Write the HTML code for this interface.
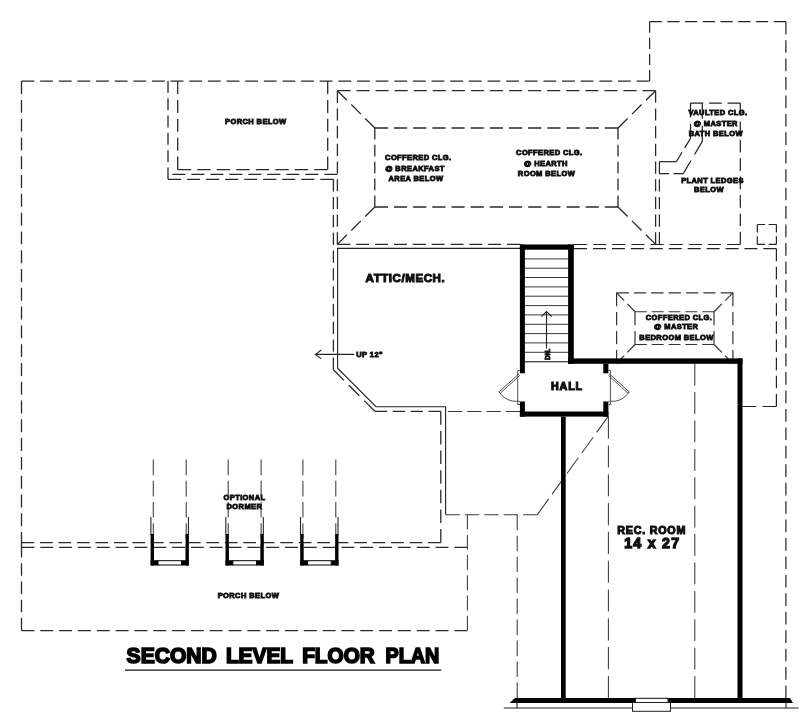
<!DOCTYPE html>
<html lang="en"><head><meta charset="utf-8"><title>Second Level Floor Plan</title>
<style>
html,body{margin:0;padding:0;background:#fff;}
body{width:800px;height:715px;overflow:hidden;}
svg{display:block;will-change:transform;}
text{font-family:"Liberation Sans",sans-serif;font-weight:bold;fill:#111;}
.d{fill:none;stroke:#2a2a2a;stroke-width:1.3;}
.dn{fill:none;stroke:#2a2a2a;stroke-width:1.12;}
.dt,.d5{fill:none;stroke:#242424;stroke-width:1.22;}
.d2{fill:none;stroke:#333;stroke-width:1.2;}
.d3,.d4{fill:none;stroke:#3a3a3a;stroke-width:1.05;}
.s{fill:none;stroke:#222;stroke-width:1.1;}
.tr{fill:none;stroke:#303030;stroke-width:0.95;}
.g{fill:none;stroke:#4a4a4a;stroke-width:0.95;}
.u{fill:none;stroke:#111;stroke-width:1.2;}
.w{fill:#000;}
.m{text-anchor:middle;}
.t7{font-size:7.5px;stroke:#111;stroke-width:0.85;letter-spacing:0.4px;}
.t12{font-size:11.55px;stroke:#111;stroke-width:1.05;letter-spacing:0.55px;}
.t12h{font-size:10.7px;stroke:#111;stroke-width:1.1;letter-spacing:0.8px;}
.t11{font-size:10.7px;stroke:#111;stroke-width:1.1;letter-spacing:0.8px;}
.t16{font-size:14.2px;stroke:#111;stroke-width:1.3;letter-spacing:1.28px;}
.title{font-size:21.5px;stroke:#000;stroke-width:1.7;fill:#000;}
</style></head>
<body>
<svg width="800" height="715" viewBox="0 0 800 715">
<rect x="0" y="0" width="800" height="715" fill="#ffffff"/>
<line class="d" x1="21.5" y1="630.6" x2="21.5" y2="545" stroke-dasharray="12.57 5.69"/>
<line class="d" x1="21.5" y1="545" x2="21.5" y2="81.1" stroke-dasharray="12.93 5.86"/>
<line class="d" x1="21.5" y1="81.1" x2="649.6" y2="81.1" stroke-dasharray="12.83 5.81"/>
<line class="d" x1="21.5" y1="630.6" x2="467.3" y2="630.6" stroke-dasharray="12.95 5.87"/>
<line class="dt" x1="649.6" y1="81.1" x2="649.6" y2="21.7" stroke-dasharray="11.08 5.02"/>
<line class="dt" x1="649.6" y1="21.7" x2="785.9" y2="21.7" stroke-dasharray="12.20 5.53"/>
<line class="dt" x1="785.9" y1="21.7" x2="785.9" y2="698" stroke-dasharray="12.69 5.75"/>
<line class="d" x1="168" y1="81.1" x2="168" y2="179.3" stroke-dasharray="11.88 5.38"/>
<line class="d" x1="168" y1="179.3" x2="333.4" y2="179.3" stroke-dasharray="13.10 5.94"/>
<line class="d" x1="333.4" y1="179.3" x2="333.4" y2="369.7" stroke-dasharray="12.26 5.55"/>
<line class="d" x1="333.4" y1="369.7" x2="374.8" y2="411.3" stroke-dasharray="15.02 6.81"/>
<line class="d" x1="374.8" y1="411.3" x2="440.8" y2="411.3" stroke-dasharray="12.31 5.58"/>
<line class="d" x1="440.8" y1="411.3" x2="440.8" y2="542.6" stroke-dasharray="13.51 6.12"/>
<line class="dn" x1="21.5" y1="542.6" x2="440.8" y2="542.6" stroke-dasharray="12.72 5.76"/>
<line class="d" x1="177.7" y1="81.1" x2="177.7" y2="169.6" stroke-dasharray="12.99 5.89"/>
<line class="d" x1="177.7" y1="169.6" x2="327.7" y2="169.6" stroke-dasharray="13.43 6.08"/>
<line class="d" x1="327.7" y1="169.6" x2="327.7" y2="81.1" stroke-dasharray="12.99 5.89"/>
<line class="d" x1="172.4" y1="174.3" x2="337.4" y2="174.3" stroke-dasharray="13.07 5.92"/>
<line class="dn" x1="21.5" y1="547.4" x2="467.3" y2="547.4" stroke-dasharray="12.95 5.87"/>
<line class="d" x1="337.4" y1="244.4" x2="337.4" y2="90.7" stroke-dasharray="12.17 5.52"/>
<line class="d" x1="337.4" y1="90.7" x2="655.6" y2="90.7" stroke-dasharray="13.12 5.95"/>
<line class="d" x1="655.6" y1="90.7" x2="655.6" y2="244.4" stroke-dasharray="12.17 5.52"/>
<line class="d" x1="337.4" y1="244.4" x2="520" y2="244.4" stroke-dasharray="12.97 5.88"/>
<line class="dt" x1="574" y1="244.5" x2="740.3" y2="244.5" stroke-dasharray="13.17 5.97"/>
<line class="d" x1="374.8" y1="128" x2="618" y2="128" stroke-dasharray="13.19 5.98"/>
<line class="d" x1="618" y1="128" x2="618" y2="207" stroke-dasharray="11.60 5.25"/>
<line class="d" x1="618" y1="207" x2="374.8" y2="207" stroke-dasharray="13.19 5.98"/>
<line class="d" x1="374.8" y1="207" x2="374.8" y2="128" stroke-dasharray="11.60 5.25"/>
<line class="d" x1="337.4" y1="90.7" x2="374.8" y2="128" stroke-dasharray="13.52 6.13"/>
<line class="d" x1="655.6" y1="90.7" x2="618" y2="128" stroke-dasharray="13.56 6.14"/>
<line class="d" x1="337.4" y1="244.4" x2="374.8" y2="207" stroke-dasharray="13.54 6.14"/>
<line class="d" x1="655.6" y1="244.4" x2="618" y2="207" stroke-dasharray="13.58 6.15"/>
<polyline class="s" points="520,248.4 337.6,248.4 337.6,368.2 376,406.7 445.6,406.7 445.6,514.6" />
<line class="dt" x1="574" y1="248.7" x2="776.4" y2="248.7" stroke-dasharray="13.03 5.91"/>
<line class="dt" x1="776.4" y1="248.7" x2="776.4" y2="406.5" stroke-dasharray="12.50 5.66"/>
<line class="dt" x1="776.4" y1="406.5" x2="742.5" y2="406.5" stroke-dasharray="13.82 6.26"/>
<line class="dt" x1="659.4" y1="244.4" x2="659.4" y2="161.7" stroke-dasharray="12.14 5.50"/>
<line class="dt" x1="659.4" y1="161.7" x2="676.3" y2="161.7" />
<line class="dt" x1="676.3" y1="161.7" x2="690.5" y2="138.4" stroke-dasharray="11.12 5.04"/>
<line class="dt" x1="690.5" y1="138.4" x2="690.5" y2="103.1" stroke-dasharray="14.39 6.52"/>
<line class="dt" x1="690.5" y1="103.1" x2="740.3" y2="103.1" stroke-dasharray="12.75 5.78"/>
<line class="dt" x1="740.3" y1="103.1" x2="740.3" y2="244.4" stroke-dasharray="12.65 5.73"/>
<line class="dt" x1="702.3" y1="103.1" x2="702.3" y2="141.4" stroke-dasharray="15.61 7.07"/>
<line class="dt" x1="702.3" y1="141.4" x2="683.3" y2="173.6" stroke-dasharray="15.24 6.91"/>
<line class="dt" x1="683.3" y1="173.6" x2="659.4" y2="173.6" stroke-dasharray="9.74 4.41"/>
<line class="d5" x1="757.3" y1="244.3" x2="757.3" y2="224.5" stroke-dasharray="8.04 3.71"/>
<line class="d5" x1="757.3" y1="224.5" x2="776.4" y2="224.5" stroke-dasharray="7.76 3.58"/>
<line class="d5" x1="776.4" y1="224.5" x2="776.4" y2="244.3" stroke-dasharray="8.04 3.71"/>
<line class="d5" x1="776.4" y1="244.3" x2="757.3" y2="244.3" stroke-dasharray="7.76 3.58"/>
<line class="d2" x1="616.6" y1="363.4" x2="616.6" y2="292.85" stroke-dasharray="13.44 5.60"/>
<line class="d2" x1="616.6" y1="292.85" x2="732.9" y2="292.85" stroke-dasharray="12.24 5.10"/>
<line class="d2" x1="732.9" y1="292.85" x2="732.9" y2="363.4" stroke-dasharray="13.44 5.60"/>
<line class="d2" x1="635" y1="311.75" x2="714" y2="311.75" stroke-dasharray="11.85 4.94"/>
<line class="d2" x1="714" y1="311.75" x2="714" y2="344.5" stroke-dasharray="13.55 5.65"/>
<line class="d2" x1="714" y1="344.5" x2="635" y2="344.5" stroke-dasharray="11.85 4.94"/>
<line class="d2" x1="635" y1="344.5" x2="635" y2="311.75" stroke-dasharray="13.55 5.65"/>
<line class="d2" x1="616.6" y1="292.85" x2="635" y2="311.75" stroke-dasharray="10.91 4.55"/>
<line class="d2" x1="732.9" y1="292.85" x2="714" y2="311.75" stroke-dasharray="11.06 4.61"/>
<line class="d2" x1="635" y1="344.5" x2="616.6" y2="363.4" stroke-dasharray="10.91 4.55"/>
<line class="d2" x1="714" y1="344.5" x2="732.9" y2="363.4" stroke-dasharray="11.06 4.61"/>
<line class="d4" x1="447.9" y1="411.4" x2="520" y2="411.4" stroke-dasharray="14.24 5.05"/>
<line class="d4" x1="445.6" y1="514.7" x2="537.3" y2="514.7" stroke-dasharray="14.28 5.07"/>
<line class="d3" x1="537.3" y1="514.7" x2="608" y2="416.6" stroke-dasharray="19.47 5.89"/>
<line class="d4" x1="467.4" y1="514.7" x2="467.4" y2="630.6" stroke-dasharray="14.91 5.29"/>
<line class="d4" x1="517.2" y1="514.7" x2="517.2" y2="698" stroke-dasharray="15.48 5.49"/>
<line class="d3" x1="608.4" y1="416.6" x2="608.4" y2="698" stroke-dasharray="22.12 6.69"/>
<line class="d3" x1="694.8" y1="363.7" x2="694.8" y2="698" stroke-dasharray="21.81 6.59"/>
<line class="d4" x1="153.3" y1="459.6" x2="153.3" y2="560" stroke-dasharray="15.64 5.55"/>
<line class="d4" x1="186.2" y1="459.6" x2="186.2" y2="560" stroke-dasharray="15.64 5.55"/>
<polyline class="s" points="150.9,517 150.9,535" />
<polyline class="s" points="188.4,517 188.4,535" />
<rect class="w" x="150.6" y="534" width="3.3" height="31.5"/>
<rect class="w" x="185.6" y="534" width="3.3" height="31.5"/>
<rect class="w" x="150.6" y="560.2" width="7.4" height="5.3"/>
<rect class="w" x="181.6" y="560.2" width="7.3" height="5.3"/>
<rect x="158" y="560.7" width="23.6" height="4.3" fill="#fff" stroke="#000" stroke-width="1"/>
<line class="d4" x1="228.20000000000002" y1="459.6" x2="228.20000000000002" y2="560" stroke-dasharray="15.64 5.55"/>
<line class="d4" x1="261.1" y1="459.6" x2="261.1" y2="560" stroke-dasharray="15.64 5.55"/>
<polyline class="s" points="225.8,517 225.8,535" />
<polyline class="s" points="263.3,517 263.3,535" />
<rect class="w" x="225.5" y="534" width="3.3" height="31.5"/>
<rect class="w" x="260.5" y="534" width="3.3" height="31.5"/>
<rect class="w" x="225.5" y="560.2" width="7.4" height="5.3"/>
<rect class="w" x="256.5" y="560.2" width="7.3" height="5.3"/>
<rect x="232.9" y="560.7" width="23.6" height="4.3" fill="#fff" stroke="#000" stroke-width="1"/>
<line class="d4" x1="302.9" y1="459.6" x2="302.9" y2="560" stroke-dasharray="15.64 5.55"/>
<line class="d4" x1="335.79999999999995" y1="459.6" x2="335.79999999999995" y2="560" stroke-dasharray="15.64 5.55"/>
<polyline class="s" points="300.5,517 300.5,535" />
<polyline class="s" points="338.0,517 338.0,535" />
<rect class="w" x="300.2" y="534" width="3.3" height="31.5"/>
<rect class="w" x="335.2" y="534" width="3.3" height="31.5"/>
<rect class="w" x="300.2" y="560.2" width="7.4" height="5.3"/>
<rect class="w" x="331.2" y="560.2" width="7.3" height="5.3"/>
<rect x="307.6" y="560.7" width="23.6" height="4.3" fill="#fff" stroke="#000" stroke-width="1"/>
<rect class="w" x="519.9" y="244.5" width="53.9" height="5.2"/>
<rect class="w" x="519.9" y="244.5" width="5.0" height="128.8"/>
<rect class="w" x="519.9" y="401.5" width="5.0" height="15.1"/>
<rect class="w" x="568.1" y="244.5" width="5.7" height="119.3"/>
<rect class="w" x="568.1" y="358.4" width="174.4" height="5.4"/>
<rect class="w" x="737.5" y="358.4" width="5.0" height="341.6"/>
<rect class="w" x="603.3" y="363.8" width="5.1" height="9.5"/>
<rect class="w" x="603.3" y="401.5" width="5.1" height="15.1"/>
<rect class="w" x="519.9" y="411.5" width="88.5" height="5.1"/>
<rect class="w" x="561" y="416.6" width="4.7" height="283.4"/>
<polygon class="w" points="515,698 790,698 793,703 509.5,703"/>
<polyline class="s" points="503.8,708 798.5,708" />
<polyline class="s" points="517,703 517,708" />
<polyline class="s" points="786,703 786,708" />
<rect x="632.5" y="702.5" width="38" height="8.8" fill="#fff" stroke="#222" stroke-width="1"/>
<rect x="635.5" y="698.3" width="32.5" height="4.2" fill="#fff" stroke="#222" stroke-width="1"/>
<polyline class="tr" points="524.9,258.9 568.1,258.9" />
<polyline class="tr" points="524.9,268.2 568.1,268.2" />
<polyline class="tr" points="524.9,277.5 568.1,277.5" />
<polyline class="tr" points="524.9,286.9 568.1,286.9" />
<polyline class="tr" points="524.9,296.2 568.1,296.2" />
<polyline class="tr" points="524.9,305.6 568.1,305.6" />
<polyline class="tr" points="524.9,314.9 568.1,314.9" />
<polyline class="tr" points="524.9,324.3 568.1,324.3" />
<polyline class="tr" points="524.9,333.6 568.1,333.6" />
<polyline class="tr" points="524.9,342.9 568.1,342.9" />
<polyline class="tr" points="524.9,352.3 568.1,352.3" />
<polyline class="tr" points="524.9,361.6 568.1,361.6" />
<polyline class="s" points="546.5,311.5 546.5,348.5" />
<polyline class="s" points="541.4,316.6 546.5,311.5 551.8,316.6" />
<polyline class="g" points="524.9,361.8 568.1,361.8" />
<polyline class="g" points="519.2,373.6 499.1,391.9 500.2,393.3 520,375.2" />
<path class="g" d="M499.6,392.6 Q504.5,399.6 512.7,401.1 L519.9,401.4"/>
<polyline class="g" points="519.9,370.5 517.7,370.5 517.7,404.5 519.9,404.5" />
<polyline class="g" points="609.1,373.6 629.2,391.9 628.1,393.3 608.3,375.2" />
<path class="g" d="M628.7,392.6 Q623.8,399.6 615.6,401.1 L608.4,401.4"/>
<polyline class="g" points="608.4,370.5 610.4,370.5 610.4,404.5 608.4,404.5" />
<polyline class="s" points="315.6,354.4 354.2,354.4" />
<polyline class="s" points="321.3,350.0 315.5,354.4 321.3,358.9" />
<text class="t7 m" x="255.8" y="124.0" >PORCH BELOW</text>
<text class="t7 m" x="418.3" y="160.1" >COFFERED CLG.</text>
<text class="t7 m" x="415" y="170.7" >@ BREAKFAST</text>
<text class="t7 m" x="416" y="181" >AREA BELOW</text>
<text class="t7 m" x="549.3" y="155.3" >COFFERED CLG.</text>
<text class="t7 m" x="546.0" y="165.7" >@ HEARTH</text>
<text class="t7 m" x="546.5" y="176.1" >ROOM BELOW</text>
<text class="t7 m" x="718" y="115.4" >VAULTED CLG.</text>
<text class="t7 m" x="715.8" y="126.3" >@ MASTER</text>
<text class="t7 m" x="715.8" y="136.2" >BATH BELOW</text>
<text class="t7 m" x="712.5" y="183.1" >PLANT LEDGES</text>
<text class="t7 m" x="709" y="191.5" >BELOW</text>
<text class="t7 m" x="679" y="320.2" >COFFERED CLG.</text>
<text class="t7 m" x="676.2" y="329.2" >@ MASTER</text>
<text class="t7 m" x="676.5" y="339.7" >BEDROOM BELOW</text>
<text class="t7 m" x="244.5" y="500.0" >OPTIONAL</text>
<text class="t7 m" x="244.4" y="508.9" >DORMER</text>
<text class="t7 m" x="248.4" y="598.3" >PORCH BELOW</text>
<text class="t7" x="356.3" y="357.2" >UP 12"</text>
<text class="t12" x="365.6" y="281.8" >ATTIC/MECH.</text>
<text class="t12h" x="551.1" y="390.2" >HALL</text>
<text class="t11 m" x="651.7" y="533.7" >REC. ROOM</text>
<text class="t16 m" x="652.3" y="548.3" >14 x 27</text>
<text class="t7" style="font-size:6.6px;letter-spacing:0.1px" transform="translate(550.1,360.1) rotate(-90)">DN.</text>
<text class="title" y="662.8"><tspan x="126.6" textLength="90.2" lengthAdjust="spacingAndGlyphs">SECOND</tspan> <tspan x="225.9" textLength="66.8" lengthAdjust="spacingAndGlyphs">LEVEL</tspan> <tspan x="302.2" textLength="72.6" lengthAdjust="spacingAndGlyphs">FLOOR</tspan> <tspan x="385.6" textLength="53.8" lengthAdjust="spacingAndGlyphs">PLAN</tspan></text>
<polyline class="u" points="125,670.1 441.3,670.1" />
</svg>
</body></html>
